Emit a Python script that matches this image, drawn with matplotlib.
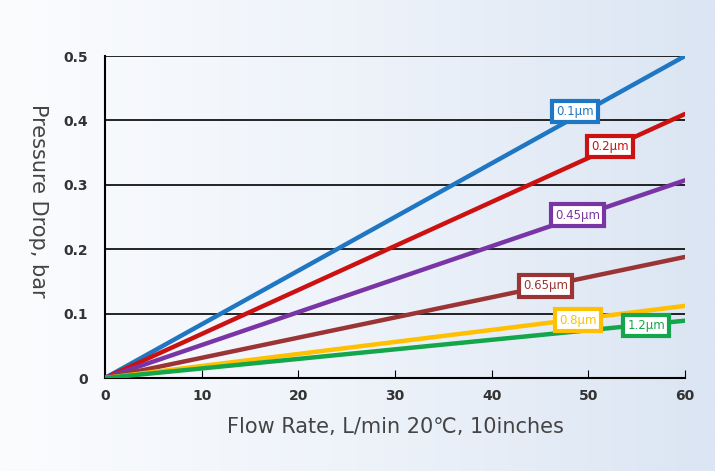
import matplotlib.pyplot as plt
import numpy as np
from matplotlib.colors import LinearSegmentedColormap

# pore sizes and pressure drop at 60 L/min (linear from origin)
labels = ["0.1\u03bcm", "0.2\u03bcm", "0.45\u03bcm", "0.65\u03bcm", "0.8\u03bcm", "1.2\u03bcm"]
flow = [0, 60]
drop_at_60 = [0.50, 0.41, 0.307, 0.188, 0.112, 0.089]
colors = ["#1f77c4", "#cc1111", "#7a35a5", "#9b3535", "#ffc000", "#13a64a"]
label_x = [48.6, 52.2, 48.9, 45.6, 48.9, 56.0]
label_y = [0.414, 0.360, 0.253, 0.143, 0.090, 0.081]

fig = plt.figure(figsize=(7.15, 4.71), dpi=100)
# background gradient
bg = fig.add_axes([0, 0, 1, 1], zorder=-10)
grad = np.linspace(0, 1, 256)[None, :]
cmap = LinearSegmentedColormap.from_list("bg", ["#fbfcfe", "#eef3fa", "#dbe5f3"])
bg.imshow(grad, aspect="auto", cmap=cmap, extent=[0, 1, 0, 1])
bg.set_axis_off()

ax = fig.add_axes([105 / 715, (471 - 378) / 471, 580 / 715, 322 / 471])
ax.patch.set_alpha(0)
for y in [0.1, 0.2, 0.3, 0.4, 0.5]:
    ax.axhline(y, color="black", lw=1.2, zorder=1)

for name, end, c in zip(labels, drop_at_60, colors):
    ax.plot(flow, [0, end], color=c, lw=3.2, solid_capstyle="round", zorder=3)

for name, lx, ly, c in zip(labels, label_x, label_y, colors):
    ax.text(lx, ly, name, color=c, fontsize=8.5, ha="center", va="center", zorder=5,
            bbox=dict(boxstyle="square,pad=0.35", fc="white", ec=c, lw=3))

ax.set_xlim(0, 60)
ax.set_ylim(0, 0.5)
ax.set_xticks(range(0, 61, 10))
ax.set_yticks([0, 0.1, 0.2, 0.3, 0.4, 0.5])
ax.set_yticklabels(["0", "0.1", "0.2", "0.3", "0.4", "0.5"])
ax.tick_params(axis="x", direction="in", length=6, color="black", labelsize=10, pad=8,
               labelcolor="#333333")
ax.tick_params(axis="y", length=0, labelsize=10, pad=12, labelcolor="#333333")
for lab in ax.get_xticklabels() + ax.get_yticklabels():
    lab.set_fontweight("bold")
for s in ["top", "right"]:
    ax.spines[s].set_visible(False)
ax.spines["left"].set_linewidth(1.5)
ax.spines["bottom"].set_linewidth(1.5)

ax.set_xlabel("Flow Rate, L/min 20\u2103, 10inches", fontsize=15, color="#444444", labelpad=10)
ax.set_ylabel("Pressure Drop, bar", fontsize=15, color="#444444", rotation=270,
              va="center", ha="center")
ax.yaxis.set_label_coords(-0.115, 0.55)

fig.savefig("out.png", dpi=100)
